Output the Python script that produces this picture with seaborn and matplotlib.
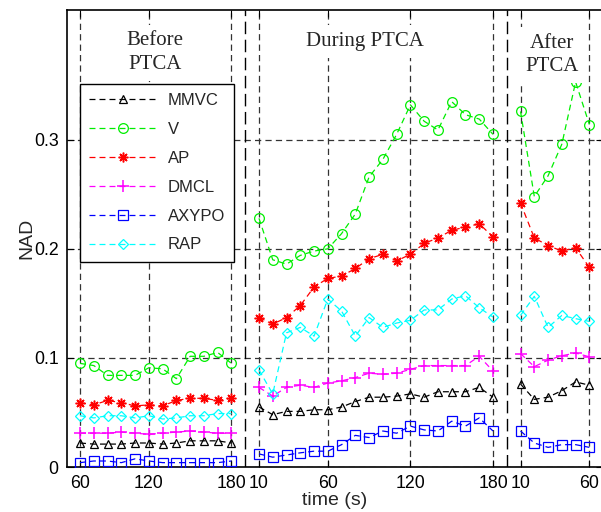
import numpy as np
import pandas as pd
import matplotlib
matplotlib.use("Agg")
import matplotlib.pyplot as plt
import seaborn as sns

# ---------------- data ----------------
series = ["MMVC", "V", "AP", "DMCL", "AXYPO", "RAP"]
colors = ["#000000", "#00ee00", "#ff0000", "#ff00ff", "#0000ff", "#00ffff"]
markers = ["^", "o", (8, 2, 0), "+", "s", "D"]
msizes = [6.0, 7.0, 7.0, 8.5, 6.5, 5.5]

before = {
    "MMVC":  [0.022, 0.021, 0.021, 0.021, 0.022, 0.022, 0.021, 0.022, 0.024, 0.024, 0.024, 0.022],
    "V":     [0.095, 0.093, 0.084, 0.084, 0.084, 0.091, 0.090, 0.081, 0.1015, 0.1015, 0.105, 0.095],
    "AP":    [0.059, 0.057, 0.061, 0.059, 0.056, 0.057, 0.056, 0.061, 0.063, 0.063, 0.061, 0.063],
    "DMCL":  [0.031, 0.031, 0.031, 0.032, 0.031, 0.030, 0.031, 0.032, 0.033, 0.032, 0.031, 0.031],
    "AXYPO": [0.004, 0.0055, 0.0055, 0.004, 0.0075, 0.0055, 0.004, 0.004, 0.004, 0.004, 0.004, 0.0055],
    "RAP":   [0.047, 0.045, 0.047, 0.047, 0.045, 0.047, 0.044, 0.045, 0.047, 0.047, 0.049, 0.049],
}
during = {
    "MMVC":  [0.055, 0.048, 0.051, 0.051, 0.0525, 0.0525, 0.055, 0.060, 0.064, 0.064, 0.065, 0.067,
              0.064, 0.069, 0.069, 0.069, 0.073, 0.064],
    "V":     [0.228, 0.190, 0.186, 0.194, 0.198, 0.200, 0.214, 0.232, 0.266, 0.282, 0.305, 0.332,
              0.317, 0.309, 0.335, 0.323, 0.319, 0.305],
    "AP":    [0.137, 0.131, 0.137, 0.148, 0.165, 0.173, 0.175, 0.182, 0.191, 0.195, 0.189, 0.195,
              0.205, 0.210, 0.217, 0.220, 0.223, 0.211],
    "DMCL":  [0.073, 0.065, 0.073, 0.075, 0.073, 0.077, 0.079, 0.082, 0.086, 0.085, 0.086, 0.0895,
              0.093, 0.093, 0.093, 0.093, 0.1015, 0.088],
    "AXYPO": [0.012, 0.009, 0.011, 0.013, 0.0145, 0.0145, 0.0205, 0.029, 0.027, 0.033, 0.031, 0.0375,
              0.034, 0.033, 0.042, 0.0375, 0.045, 0.033],
    "RAP":   [0.089, 0.067, 0.123, 0.128, 0.120, 0.154, 0.143, 0.120, 0.137, 0.128, 0.132, 0.1345,
              0.144, 0.144, 0.154, 0.157, 0.146, 0.1375],
}
after = {
    "MMVC":  [0.076, 0.062, 0.064, 0.070, 0.078, 0.075],
    "V":     [0.326, 0.248, 0.267, 0.296, 0.353, 0.314],
    "AP":    [0.242, 0.210, 0.203, 0.198, 0.201, 0.183],
    "DMCL":  [0.104, 0.092, 0.098, 0.102, 0.1045, 0.101],
    "AXYPO": [0.033, 0.022, 0.018, 0.0205, 0.0205, 0.018],
    "RAP":   [0.139, 0.1565, 0.128, 0.139, 0.136, 0.1335],
}
segments = [("Before\nPTCA", before), ("During PTCA", during), ("After\nPTCA", after)]

# tick labels (time in s) at sample indices within each segment
seg_tick_idx = [[0, 5, 11], [0, 5, 11, 17], [0, 5]]
seg_tick_lab = [["60", "120", "180"], ["10", "60", "120", "180"], ["10", "60"]]
yticks = [0, 0.1, 0.2, 0.3]
ytick_labels = ["0", "0.1", "0.2", "0.3"]

# ---------------- build long table ----------------
rows = []
offset = 0
seg_offsets = []
for si, (name, d) in enumerate(segments):
    seg_offsets.append(offset)
    n = len(d["MMVC"])
    for s in series:
        for i, v in enumerate(d[s]):
            rows.append({"segment": si, "series": s, "pos": offset + i, "nad": v})
    offset += n + 1  # one empty slot between segments
df = pd.DataFrame(rows)

# ---------------- plot ----------------
sns.set_style("ticks")
plt.rcParams["font.family"] = ["Liberation Sans", "DejaVu Sans"]
plt.rcParams["lines.scale_dashes"] = False

fig = plt.figure(figsize=(6.01, 5.12), dpi=100)
ax = fig.add_axes([67 / 601, 45 / 512, 536 / 601, 457 / 512])

handles = []
for s, c, m, ms in zip(series, colors, markers, msizes):
    first = None
    for si in range(len(segments)):
        sub = df[(df.series == s) & (df.segment == si)]
        open_m = m in ("^", "o", "s", "D")
        sns.lineplot(data=sub, x="pos", y="nad", ax=ax, estimator=None, sort=False,
                     color=c, marker=m, markersize=ms,
                     markerfacecolor="none" if open_m else c,
                     markeredgecolor=c, markeredgewidth=1.1 if not open_m else 0.9,
                     linewidth=0.9, linestyle=(0, (4.3, 2.9)), zorder=4)
        if first is None:
            first = ax.lines[-1]
    handles.append(first)

# segment separators
for si in range(1, len(segments)):
    ax.axvline(seg_offsets[si] - 1, color="black", linewidth=1.0,
               linestyle=(0, (9, 4)), zorder=3)

# ticks
xt, xl = [], []
for off, idxs, labs in zip(seg_offsets, seg_tick_idx, seg_tick_lab):
    xt += [off + i for i in idxs]
    xl += labs
ax.set_xticks(xt)
ax.set_xticklabels(xl)
ax.set_yticks(yticks)
ax.set_yticklabels(ytick_labels)
ax.set_xlim(-0.945, 37.99)
ax.set_ylim(0, 0.419)
ax.tick_params(direction="in", length=5, width=0.8, top=True, right=True,
               labelsize=12.8, pad=6, colors="black")
ax.grid(True, linestyle=(0, (4.5, 3)), color="#333333", linewidth=0.9)
for sp in ax.spines.values():
    sp.set_linewidth(1.2)
    sp.set_color("black")

ax.set_xlabel("time (s)", fontsize=14, labelpad=0)
ax.set_ylabel("NAD", fontsize=14, labelpad=-1)

# segment titles
title_pos = [(5.45, 0.380), (20.7, 0.390), (34.3, 0.378)]
for (name, _), (tx, ty) in zip(segments, title_pos):
    ax.text(tx, ty, name, ha="center", va="center", fontsize=15,
            family=["Liberation Serif", "DejaVu Serif"], linespacing=1.3, zorder=6,
            bbox=dict(facecolor="white", edgecolor="none", pad=5))

leg = ax.legend(handles, series, loc="upper left", bbox_to_anchor=(0.0243, 0.838),
                borderaxespad=0, fancybox=False, framealpha=1, edgecolor="black",
                fontsize=12, handlelength=4.1, handletextpad=0.6, labelspacing=0.83,
                borderpad=0.55, numpoints=1)
leg.get_frame().set_linewidth(1.0)
leg.set_zorder(7)

fig.savefig("out.png", dpi=100)
